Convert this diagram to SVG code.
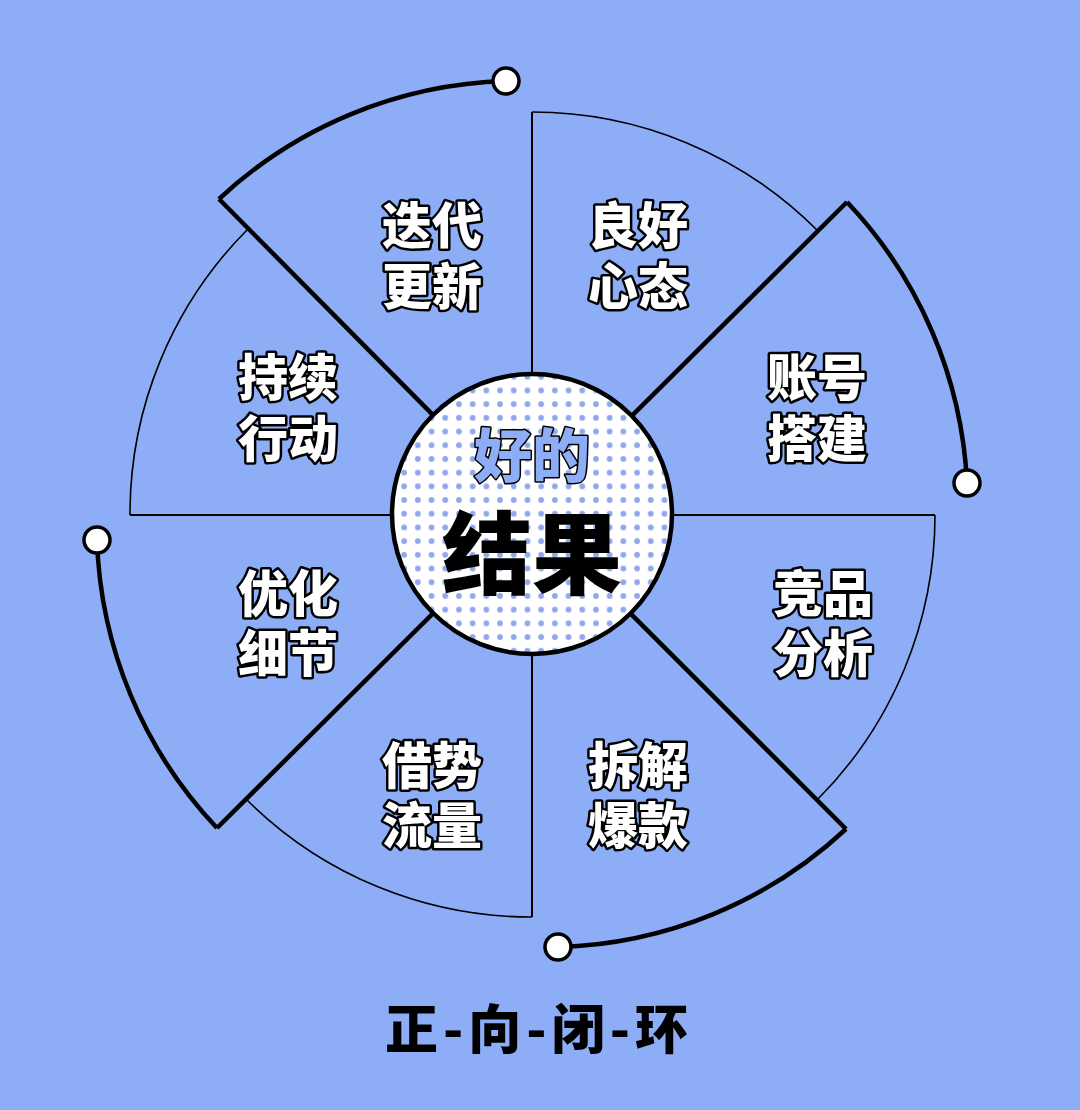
<svg xmlns="http://www.w3.org/2000/svg" width="1080" height="1110" viewBox="0 0 1080 1110">
<defs>
<style>
.thin{fill:none;stroke:#000;stroke-width:1.6}
.axis{fill:none;stroke:#000;stroke-width:2}
.thick{fill:none;stroke:#000;stroke-width:4.5;stroke-linejoin:miter}
.end{fill:#fff;stroke:#000;stroke-width:3.5}
.lbl{font-family:"Noto Sans CJK SC","Noto Sans",sans-serif;font-weight:900;font-size:50px;fill:#fff;stroke:#000;stroke-width:5;paint-order:stroke;stroke-linejoin:round;text-anchor:middle;dominant-baseline:central}
</style>
<pattern id="dots" x="0" y="0" width="13.7" height="13.7" patternUnits="userSpaceOnUse">
<circle cx="6.85" cy="6.85" r="2.9" fill="#8ea8ea"/>
</pattern>
</defs>
<rect width="1080" height="1110" fill="#8DADF7"/>
<g id="connectors">
<line class="axis" x1="532" y1="112" x2="532" y2="917"/>
<line class="axis" x1="130" y1="515" x2="935" y2="515"/>
<line class="thick" x1="532" y1="515" x2="219" y2="199"/>
<line class="thick" x1="532" y1="515" x2="847" y2="202"/>
<line class="thick" x1="532" y1="515" x2="846" y2="829"/>
<line class="thick" x1="532" y1="515" x2="217" y2="828"/>
<path class="thin" d="M532 112 A403 403 0 0 1 817 230"/>
<path class="thin" d="M935 515 A403 403 0 0 1 817 800"/>
<path class="thin" d="M532 917 A403 403 0 0 1 247 800"/>
<path class="thin" d="M130 515 A403 403 0 0 1 247 230"/>
<path class="thick" d="M219 199 A440 440 0 0 1 506 81"/>
<path class="thick" d="M847 202 A440 440 0 0 1 967 483"/>
<path class="thick" d="M846 829 A440 440 0 0 1 558 947"/>
<path class="thick" d="M217 828 A440 440 0 0 1 97 540"/>
<circle class="end" cx="506" cy="81" r="13"/>
<circle class="end" cx="967" cy="483" r="13"/>
<circle class="end" cx="558" cy="947" r="13"/>
<circle class="end" cx="97" cy="540" r="13"/>
</g>
<g id="center">
<circle cx="532" cy="514" r="140" fill="#fff"/>
<circle cx="532" cy="514" r="140" fill="url(#dots)"/>
<circle cx="532" cy="514" r="140" fill="none" stroke="#000" stroke-width="4.5"/>
<text x="532" y="452" font-family="Noto Sans CJK SC, sans-serif" font-weight="900" font-size="58" fill="#8DADF7" stroke="#000" stroke-width="3" paint-order="stroke" stroke-linejoin="round" text-anchor="middle" dominant-baseline="central">好的</text>
<text x="532" y="548" font-family="Noto Sans CJK SC, sans-serif" font-weight="900" font-size="90" fill="#000" text-anchor="middle" dominant-baseline="central">结果</text>
</g>
<g id="n1"><text class="lbl" x="432" y="222">迭代</text><text class="lbl" x="432" y="283">更新</text></g>
<g id="n2"><text class="lbl" x="638" y="222">良好</text><text class="lbl" x="638" y="283">心态</text></g>
<g id="n3"><text class="lbl" x="817" y="374">账号</text><text class="lbl" x="817" y="435">搭建</text></g>
<g id="n4"><text class="lbl" x="823" y="590">竞品</text><text class="lbl" x="823" y="650">分析</text></g>
<g id="n5"><text class="lbl" x="638" y="762">拆解</text><text class="lbl" x="638" y="822">爆款</text></g>
<g id="n6"><text class="lbl" x="432" y="762">借势</text><text class="lbl" x="432" y="822">流量</text></g>
<g id="n7"><text class="lbl" x="288" y="590">优化</text><text class="lbl" x="288" y="650">细节</text></g>
<g id="n8"><text class="lbl" x="288" y="374">持续</text><text class="lbl" x="288" y="435">行动</text></g>
<g id="title"><text x="539" y="1026" font-family="Noto Sans CJK SC, sans-serif" font-weight="900" font-size="53" letter-spacing="5" fill="#000" text-anchor="middle" dominant-baseline="central">正-向-闭-环</text></g>
</svg>
